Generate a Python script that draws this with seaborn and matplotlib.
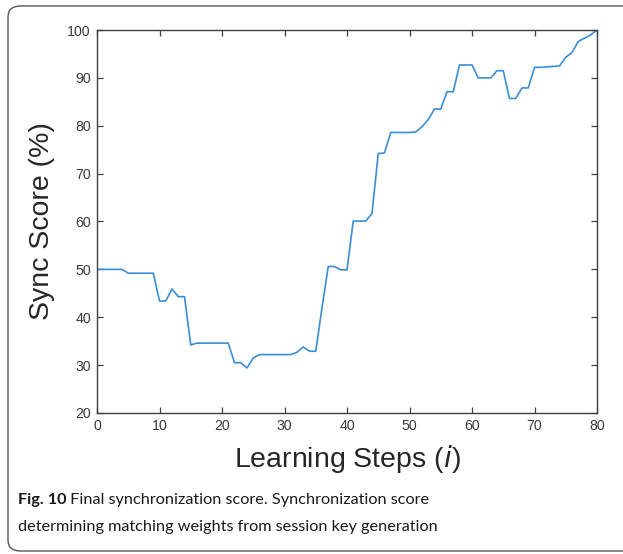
import matplotlib
matplotlib.use("Agg")
import matplotlib.pyplot as plt
from matplotlib.patches import FancyBboxPatch
import numpy as np
import pandas as pd
import seaborn as sns

# Learning steps and the synchronization score reached at each step
steps = list(range(0, 81))
sync_score = [
    50.0, 50.0, 50.0, 50.0, 50.0, 49.2, 49.2, 49.2, 49.2, 49.2,
    43.4, 43.4, 45.9, 44.3, 44.3, 34.2, 34.6, 34.6, 34.6, 34.6,
    34.6, 34.6, 30.5, 30.5, 29.4, 31.5, 32.2, 32.2, 32.2, 32.2,
    32.2, 32.2, 32.7, 33.8, 32.9, 32.9, 42.0, 50.6, 50.6, 49.9,
    49.9, 60.1, 60.1, 60.1, 61.7, 74.2, 74.3, 78.6, 78.6, 78.6,
    78.6, 78.7, 79.8, 81.3, 83.5, 83.5, 87.1, 87.1, 92.7, 92.7,
    92.7, 90.0, 90.0, 90.0, 91.5, 91.5, 85.7, 85.7, 87.9, 87.9,
    92.2, 92.2, 92.3, 92.4, 92.5, 94.3, 95.3, 97.6, 98.3, 99.0,
    100.0,
]
x_ticks = [0, 10, 20, 30, 40, 50, 60, 70, 80]
y_ticks = [20, 30, 40, 50, 60, 70, 80, 90, 100]

caption_bold = "Fig. 10"
caption_line1 = " Final synchronization score. Synchronization score"
caption_line2 = "determining matching weights from session key generation"

df = pd.DataFrame({"step": steps, "score": sync_score})

sns.set_style("white")
plt.rcParams["font.family"] = ["Liberation Sans", "DejaVu Sans"]

fig = plt.figure(figsize=(6.23, 5.54), dpi=100)
ax = fig.add_axes([97 / 623, 1 - 413 / 554, 500 / 623, 383 / 554])

sns.lineplot(data=df, x="step", y="score", ax=ax, color="#3b8ed6",
             linewidth=1.2, errorbar=None)

ax.set_xlim(0, 80)
ax.set_ylim(20, 100)
ax.set_xticks(x_ticks)
ax.set_yticks(y_ticks)
ax.tick_params(direction="in", length=4, width=0.9, color="#404040",
               labelsize=10.2, labelcolor="#3a3a3a", top=True, right=True,
               bottom=True, left=True, pad=4.5)
for side in ax.spines.values():
    side.set_visible(True)
    side.set_color("#404040")
    side.set_linewidth(1.0)

ax.set_xlabel("Learning Steps ($\\mathit{i}$)", fontsize=20.5, color="#262626",
              labelpad=7)
ax.set_ylabel("Sync Score (%)", fontsize=20.5, color="#262626", labelpad=9)

# Rounded frame around the figure and its caption
frame = FancyBboxPatch((8 / 623, 1 - 551 / 554), 640 / 623, 545 / 554,
                       boxstyle="round,pad=0,rounding_size=0.02",
                       transform=fig.transFigure, fill=False,
                       edgecolor="#555555", linewidth=1.0, clip_on=False)
fig.patches.append(frame)

cap_font = ["Lato", "DejaVu Sans"]
cap_size = 11.7
t = fig.text(18 / 623, 1 - 500 / 554, caption_bold, fontsize=cap_size,
             fontweight="bold", family=cap_font, va="center", ha="left",
             color="#1a1a1a")
fig.canvas.draw()
bb = t.get_window_extent(renderer=fig.canvas.get_renderer())
fig.text(bb.x1 / fig.bbox.width, 1 - 500 / 554, caption_line1,
         fontsize=cap_size, family=cap_font, va="center", ha="left",
         color="#1a1a1a")
fig.text(18 / 623, 1 - 527 / 554, caption_line2, fontsize=cap_size,
         family=cap_font, va="center", ha="left", color="#1a1a1a")

fig.savefig("out.png", dpi=100)
